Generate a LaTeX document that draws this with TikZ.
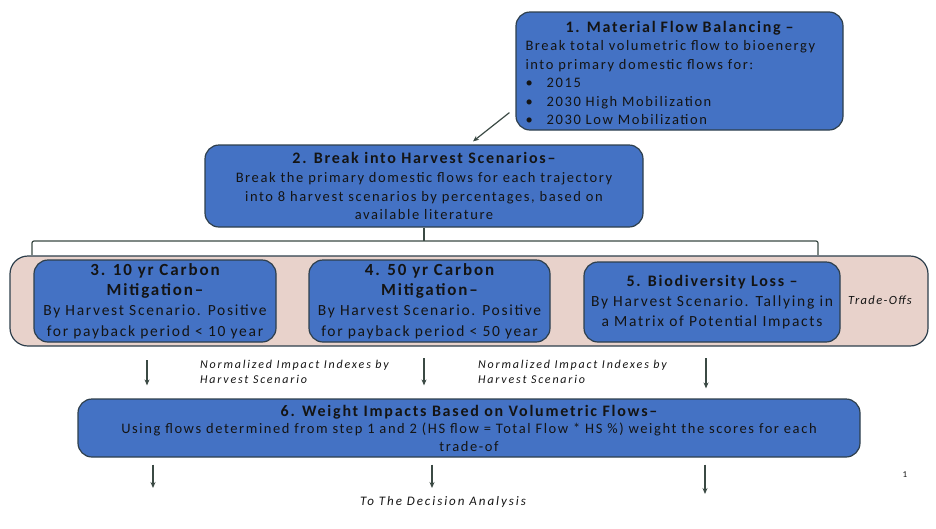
\documentclass[tikz,border=0pt]{standalone}
\usepackage{fontspec}
\setmainfont{Carlito}[LetterSpace=11]
\newfontfamily\notefont{Carlito}[LetterSpace=15]
\usetikzlibrary{arrows.meta}

\definecolor{boxblue}{HTML}{4472C4}
\definecolor{boxline}{HTML}{2E3F4C}
\definecolor{tradefill}{HTML}{E8D2CB}
\definecolor{arrowgrey}{HTML}{3B4A44}
\definecolor{textdark}{HTML}{141414}

\newcommand{\steptitle}[1]{{\fontsize{16}{19}\selectfont\bfseries #1}}
\newcommand{\bigsteptitle}[1]{{\fontsize{17}{20.3}\selectfont\bfseries #1}}

\begin{document}
\begin{tikzpicture}[x=1pt,y=-1pt,
    stepbox/.style ={rectangle, rounded corners=14pt, draw=boxline, line width=1.2pt,
                     fill=boxblue, text=textdark, align=center, inner sep=2pt,
                     font=\fontsize{14.5}{18.6}\selectfont},
    tradestep/.style ={stepbox, font=\fontsize{15.5}{20.3}\selectfont},
    tradebox/.style ={rectangle, rounded corners=18pt, draw=boxline, line width=1.2pt,
                     fill=tradefill},
    flow/.style ={draw=arrowgrey, line width=1.2pt, -{Stealth[length=6pt,width=5pt]}},
    note/.style ={text=textdark, align=left, inner sep=0pt,
                  font=\notefont\fontsize{12}{15}\selectfont\itshape}]
   \useasboundingbox (0,0) rectangle (936,528);

   % trade-off band behind steps 3 to 5
   \node[tradebox, minimum width=918pt, minimum height=90pt] (trade) at (469,301) {};

   \node[stepbox, minimum width=327pt, minimum height=118pt, text width=308pt, align=left]
      (flowbal) at (679.5,71)
      {\makebox[\linewidth]{\rule{0pt}{16pt}\steptitle{1. Material Flow Balancing –}}\\[-1pt]
       Break total volumetric flow to bioenergy\\
       into primary domestic flows for:\\
       \textbullet\hspace{14pt}2015\\
       \textbullet\hspace{14pt}2030 High Mobilization\\
       \textbullet\hspace{14pt}2030 Low Mobilization};
   \node[stepbox, minimum width=438pt, minimum height=82pt] (harvest) at (424,186)
      {\steptitle{2. Break into Harvest Scenarios–}\\[1pt]
       Break the primary domestic flows for each trajectory\\
       into 8 harvest scenarios by percentages, based on\\
       available literature};
   \node[tradestep, minimum width=242pt, minimum height=82pt] (carbonA) at (155,301)
      {\bigsteptitle{3. 10 yr Carbon}\\ \bigsteptitle{Mitigation–}\\
       By Harvest Scenario. Positive\\ for payback period < 10 year};
   \node[tradestep, minimum width=241pt, minimum height=82pt] (carbonB) at (429.5,301)
      {\bigsteptitle{4. 50 yr Carbon}\\ \bigsteptitle{Mitigation–}\\
       By Harvest Scenario. Positive\\ for payback period < 50 year};
   \node[tradestep, minimum width=256pt, minimum height=80pt] (biodiv) at (712,302)
      {\steptitle{5. Biodiversity Loss –}\\
       By Harvest Scenario. Tallying in\\ a Matrix of Potential Impacts};
   \node[note, font=\fontsize{12.5}{15}\selectfont\itshape] (tradelbl) at (880,300) {Trade-Offs};

   \node[stepbox, minimum width=782pt, minimum height=58pt,
         font=\fontsize{14.5}{17.5}\selectfont] (weight) at (469,428)
      {\steptitle{6. Weight Impacts Based on Volumetric Flows–}\\
       Using flows determined from step 1 and 2 (HS flow = Total Flow * HS \%) weight the scores for each\\
       trade-of};

   \node[note, anchor=north west] (normA) at (200,360) {Normalized Impact Indexes by\\ Harvest Scenario};
   \node[note, anchor=north west] (normB) at (478,360) {Normalized Impact Indexes by\\ Harvest Scenario};
   \node[note, font=\notefont\fontsize{13}{15}\selectfont\itshape] (decision) at (443,502) {To The Decision Analysis};
   \node[font=\fontsize{9}{10}\selectfont, text=textdark, inner sep=0pt] (pagenum) at (905,475) {1};

   % arrow from step 1 down to step 2
   \draw[flow] ([shift={(-6,-18)}]flowbal.south west) to ([shift={(49,-3)}]harvest.north);

   % bracket over the trade-offs
   \coordinate (brL) at (32,255);
   \coordinate (brR) at (818,255);
   \coordinate (brTip) at (424,241);
   \draw[draw=arrowgrey, line width=1.2pt, rounded corners=2pt]
      (brL) -- (brL |- brTip) -- (brR |- brTip) -- (brR);
   \draw[draw=arrowgrey, line width=1.2pt] (harvest.south) -- (brTip);

   % arrows into step 6
   \coordinate (inA) at (147,360);
   \coordinate (inB) at (424,358);
   \coordinate (inC) at (706,358);
   \draw[flow, shorten >=13pt] (inA) -- (inA |- weight.north);
   \draw[flow, shorten >=13pt] (inB) -- (inB |- weight.north);
   \draw[flow, shorten >=10pt] (inC) -- (inC |- weight.north);

   % arrows out of step 6
   \coordinate (outA) at (153,488);
   \coordinate (outB) at (432,488);
   \coordinate (outC) at (705,494);
   \draw[flow, shorten <=7pt] (weight.south -| outA) -- (outA);
   \draw[flow, shorten <=7pt] (weight.south -| outB) -- (outB);
   \draw[flow, shorten <=7pt] (weight.south -| outC) -- (outC);
 \end{tikzpicture}
\end{document}
